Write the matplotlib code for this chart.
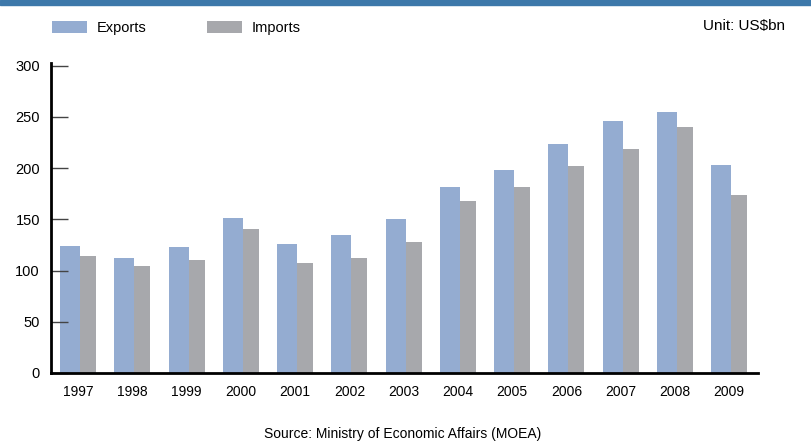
import matplotlib
matplotlib.use("Agg")
import matplotlib.pyplot as plt
from matplotlib.patches import Rectangle, Patch
import numpy as np

years = ["1997", "1998", "1999", "2000", "2001", "2002", "2003",
         "2004", "2005", "2006", "2007", "2008", "2009"]
exports = [124.1, 112.4, 123.1, 151.5, 126.1, 134.9, 150.5,
           181.8, 198.4, 223.8, 246.3, 255.1, 203.3]
imports = [114.3, 104.6, 110.4, 140.7, 107.5, 112.4, 128.0,
           168.1, 181.8, 202.3, 218.9, 240.4, 174.0]
y_ticks = [0, 50, 100, 150, 200, 250, 300]

EXP_COLOR = "#94acd1"
IMP_COLOR = "#a7a8ac"
BAND_COLOR = "#3d78aa"

plt.rcParams["font.family"] = ["Liberation Sans", "DejaVu Sans"]

W, H = 811, 444
fig = plt.figure(figsize=(W / 100, H / 100), dpi=100)

# axes box in figure fraction
left, right = 51 / W, 758 / W
bottom, top = 1 - 373 / H, 1 - 62.7 / H
ax = fig.add_axes([left, bottom, right - left, top - bottom])

x = np.arange(len(years))
w_exp, w_imp = 0.369, 0.295
ax.bar(x - w_exp, exports, width=w_exp, align="edge", color=EXP_COLOR)
ax.bar(x, imports, width=w_imp, align="edge", color=IMP_COLOR)

ax.set_xlim(-0.535, 12.497)
ax.set_ylim(0, 303)

for s in ["top", "right"]:
    ax.spines[s].set_visible(False)
for s in ["left", "bottom"]:
    ax.spines[s].set_linewidth(2)
    ax.spines[s].set_color("black")

ax.set_yticks(y_ticks)
ax.set_yticklabels([str(v) for v in y_ticks], fontsize=10.5)
ax.tick_params(axis="y", direction="in", length=12.5, width=1, color="#444444", pad=8)

ax.set_xticks(x - 0.035)
ax.set_xticklabels(years, fontsize=10)
ax.tick_params(axis="x", length=0, pad=9)

# legend entries, one per series
leg_fs = 10.5
leg_kw = dict(loc="center left", frameon=False, fontsize=leg_fs, handlelength=2.4,
              handleheight=0.96, handletextpad=0.68, borderaxespad=0, borderpad=0)
for label, color, x0 in [("Exports", EXP_COLOR, 52), ("Imports", IMP_COLOR, 207)]:
    fig.legend(handles=[Patch(facecolor=color, label=label)],
               bbox_to_anchor=(x0 / W, 1 - 28 / H), **leg_kw)

fig.text(785 / W, 1 - 26 / H, "Unit: US$bn", ha="right", va="center", fontsize=11)
fig.text(403 / W, 1 - 434 / H, "Source: Ministry of Economic Affairs (MOEA)",
         ha="center", va="center", fontsize=10)

# header band
fig.patches.append(Rectangle((0, 1 - 5 / H), 1, 5 / H, transform=fig.transFigure,
                             color=BAND_COLOR, zorder=5))

fig.savefig("out.png", dpi=100)
